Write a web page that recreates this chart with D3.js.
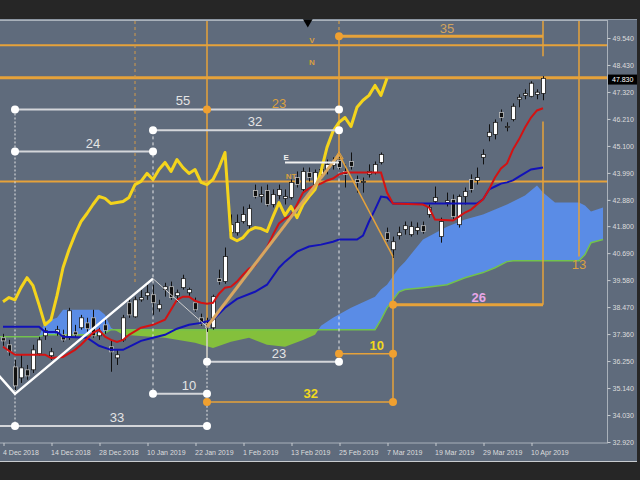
<!DOCTYPE html>
<html><head><meta charset="utf-8">
<script src="https://cdn.jsdelivr.net/npm/d3@7"></script>
<style>html,body{margin:0;padding:0;background:#262626;}svg{display:block;}</style>
</head><body>
<svg id="c" width="640" height="480"></svg>
<script>
// ---------- data ----------
const dateLabels = ["4 Dec 2018","14 Dec 2018","28 Dec 2018","10 Jan 2019","22 Jan 2019","1 Feb 2019","13 Feb 2019","25 Feb 2019","7 Mar 2019","19 Mar 2019","29 Mar 2019","10 Apr 2019"];
const dateIdx = [0,8,16,24,32,40,48,56,64,72,80,88];
const priceTicks = [49.54,48.43,47.32,46.21,45.10,43.99,42.88,41.80,40.69,39.58,38.47,37.36,36.25,35.14,34.03,32.92];
const lastPrice = 47.83;

const openP = [37.21,36.92,36.01,35.56,35.89,35.89,36.55,37.29,36.47,37.41,37.33,37.25,37.45,37.62,37.82,38.03,37.29,37.74,36.84,36.38,37.12,38.65,38.07,38.77,38.94,38.98,38.40,39.19,39.31,38.94,39.27,39.06,38.65,38.03,37.78,37.62,39.64,39.52,41.53,41.53,41.99,41.82,43.27,43.02,43.27,42.69,43.06,42.94,42.98,43.80,43.31,44.01,43.51,43.93,44.13,44.30,44.50,44.05,44.46,43.72,43.60,43.93,44.01,44.42,41.53,40.83,41.41,41.66,41.45,41.62,41.82,42.28,42.81,41.37,42.77,42.90,41.86,43.02,43.72,43.68,44.63,45.49,45.57,46.48,45.86,46.19,47.02,47.18,47.14,47.22,47.26];
const highP = [37.37,37.12,36.30,36.51,36.09,36.92,37.25,37.62,36.79,37.70,37.54,38.44,37.74,38.15,38.03,38.36,37.62,38.03,37.12,36.71,38.15,38.86,38.90,39.19,39.39,39.39,38.77,39.47,39.52,39.19,39.80,39.27,38.86,38.20,38.03,38.98,40.01,40.92,42.28,42.28,42.61,42.69,43.51,43.43,43.51,43.31,43.51,43.31,43.72,44.05,44.21,44.21,44.13,44.34,44.54,44.63,44.75,44.34,44.83,43.88,43.80,44.34,44.46,44.83,41.74,41.37,41.78,41.99,41.99,41.95,41.99,42.69,43.43,42.15,43.18,43.10,43.10,43.39,43.93,44.21,44.96,45.99,46.19,46.60,46.07,46.85,47.22,47.43,47.76,47.43,47.97];
const lowP = [36.88,36.47,35.06,35.35,35.48,35.76,36.47,37.12,36.30,37.29,37.04,37.12,37.21,37.54,37.45,37.21,37.12,37.37,35.81,36.09,37.04,38.03,38.03,38.69,38.77,38.15,38.28,38.90,38.77,38.69,39.19,38.94,38.28,37.70,37.45,37.54,39.39,39.43,41.33,41.41,41.91,41.66,42.94,42.77,42.61,42.57,42.90,42.69,42.90,43.39,43.23,43.64,43.39,43.72,43.93,44.13,44.13,43.39,44.13,43.18,43.18,43.80,43.93,44.34,41.16,40.50,41.25,41.45,41.37,41.45,41.49,42.15,42.73,41.12,42.61,42.07,41.74,42.69,43.18,43.51,44.34,45.29,45.37,46.11,45.70,46.11,46.69,47.02,47.10,47.02,46.98];
const closeP = [37.08,36.63,35.23,35.97,35.64,36.71,37.12,37.50,36.63,37.54,37.12,38.32,37.33,38.03,37.58,37.29,37.45,37.50,36.63,36.51,38.03,38.15,38.77,38.86,39.06,38.65,38.57,39.31,38.86,39.06,39.64,39.19,38.36,37.78,37.62,38.90,39.52,40.55,41.86,41.95,42.28,42.52,43.02,43.10,42.69,43.10,43.31,43.02,43.60,43.51,44.05,43.80,44.01,44.13,44.34,44.46,44.21,43.93,44.26,43.60,43.64,44.05,44.34,44.75,41.25,41.16,41.53,41.82,41.78,41.74,41.58,42.57,42.98,41.99,42.85,42.19,43.02,43.23,43.31,43.80,44.75,45.66,46.07,46.27,45.90,46.73,47.10,47.26,47.68,47.31,47.88];

// Chikou span (yellow), one value per bar starting at bar 0
const chikou = [38.69,38.86,38.77,39.27,39.68,39.35,38.57,37.74,37.95,38.94,40.09,40.83,41.45,41.99,42.32,42.69,43.02,42.94,42.73,42.77,42.81,42.98,43.51,43.64,43.97,43.72,44.13,44.42,44.05,44.54,44.21,43.97,44.13,43.60,43.51,43.72,44.21,44.83,41.33,41.20,41.33,41.62,41.74,41.70,41.58,42.19,42.77,42.24,42.61,42.15,42.69,43.02,43.31,44.05,45.04,45.70,46.07,46.27,45.90,46.69,46.98,47.18,47.59,47.18,47.88];

// Tenkan (red) and Kijun (blue): [bar, value]
const tenkan = [[0,36.84],[2,36.51],[7,36.51],[8,36.38],[10,36.42],[12,36.71],[13,36.92],[15,37.41],[16,37.54],[17,37.25],[18,37.12],[19,37.04],[20,37.12],[21,37.33],[23,37.62],[25,37.74],[27,37.95],[28,38.36],[29,38.77],[30,38.90],[31,38.90],[32,38.73],[33,38.65],[34,38.61],[35,38.65],[36,39.02],[37,39.27],[38,39.31],[39,39.52],[40,39.80],[41,40.05],[42,40.17],[43,40.59],[44,40.92],[45,41.45],[46,41.91],[47,42.11],[48,42.24],[49,42.69],[50,43.18],[51,43.35],[52,43.47],[53,43.55],[54,43.68],[55,43.76],[56,43.93],[57,44.01],[63,44.01],[64,43.18],[65,42.73],[70,42.69],[71,42.57],[72,42.07],[75,42.03],[76,42.19],[77,42.36],[78,42.48],[79,42.69],[80,42.90],[81,43.31],[82,43.80],[83,44.17],[84,44.38],[85,44.96],[86,45.37],[87,45.86],[88,46.27],[89,46.56],[90,46.65]];
const kijun = [[0,37.66],[6,37.66],[7,37.45],[9,37.45],[10,37.25],[14,37.21],[16,36.88],[18,36.71],[20,36.71],[22,36.96],[23,37.08],[25,37.21],[27,37.33],[29,37.58],[31,37.74],[33,37.82],[35,37.95],[37,38.44],[39,38.81],[42,39.10],[44,39.39],[46,40.09],[47,40.34],[49,40.75],[51,40.96],[53,41.04],[55,41.16],[56,41.25],[59,41.25],[60,41.41],[61,41.99],[62,42.48],[63,43.02],[64,42.98],[65,42.73],[79,42.73],[80,42.90],[81,43.31],[82,43.43],[83,43.55],[84,43.60],[85,43.68],[86,43.84],[88,44.13],[90,44.21]];

// Cloud (Senkou A / Senkou B) at shared bars
const cloudIdx = [-1,6,7,9,10,16,17,18,20,27,32,35,38,41,44,47,50,52,53,55,58,62,63,64,66,67,70,74,77,80,82,84,85,87,89,90,92,96,97,98,100];
const senkouA = [37.25,37.25,37.87,38.03,38.36,38.36,38.15,37.62,37.33,37.21,37.00,36.79,37.04,37.21,36.92,36.84,37.12,37.33,37.70,38.03,38.44,38.90,39.19,39.39,40.09,40.34,41.25,41.78,42.07,42.28,42.48,42.69,42.81,43.06,43.47,43.18,42.77,42.77,42.65,42.40,42.57];
const senkouB = [37.25,37.25,37.33,37.33,37.33,37.33,37.41,37.54,37.54,37.54,37.54,37.54,37.54,37.54,37.54,37.54,37.54,37.54,37.54,37.54,37.54,37.54,37.95,38.44,39.10,39.19,39.27,39.39,39.68,39.89,40.09,40.34,40.38,40.38,40.38,40.38,40.38,40.38,40.63,41.12,41.25];

// Analysis annotations (bars / prices)
const fullLevels = [49.24, 47.90, 43.64];
const whiteSpans = [
  {label:"55", from:2,  to:56, price:46.60, at:30},
  {label:"32", from:25, to:56, price:45.74, at:42},
  {label:"24", from:2,  to:25, price:44.87, at:15},
  {label:"23", from:34, to:56, price:36.22, at:46},
  {label:"10", from:25, to:34, price:34.90, at:31},
  {label:"33", from:-1, to:34, price:33.58, at:19}
];
const orangeSpans = [
  {label:"35", from:56, to:90, price:49.61, at:74},
  {label:"26", from:65, to:90, price:38.57, at:79.3},
  {label:"10", from:56, to:65, price:36.55, at:62.3},
  {label:"32", from:34, to:65, price:34.57, at:51.3}
];
const whiteDots = [[2,46.60],[56,46.60],[25,45.74],[56,45.74],[2,44.87],[25,44.87],[34,36.22],[56,36.22],[25,34.90],[34,34.90],[2,33.58],[34,33.58]];
const orangeDots = [[34,46.60],[56,49.61],[65,38.57],[56,36.55],[65,36.55],[34,34.57],[65,34.57]];
const zigzag = [[-1,35.74],[2,34.90],[25,39.64]];
const zigThin = [[25,39.64],[34,37.66]];
const zigTan = [[34,37.66],[56,44.75]];
const zigOrange = [[56,44.75],[65,40.55]];
const eLine = [[47,44.42],[56,44.42]];
const smallLabels = [
  {t:"23", i:46, p:46.68, kind:"orange"},
  {t:"13", i:96, p:40.05, kind:"orange"},
  {t:"V",  i:51.5, p:49.33, kind:"tiny"},
  {t:"N",  i:51.5, p:48.42, kind:"tiny"},
  {t:"E",  i:47.2, p:44.54, kind:"tinyw"},
  {t:"NT", i:48, p:43.76, kind:"tiny"}
];
const shiftMarkIdx = 50.8;

// ---------- drawing ----------
const BG = "#5f6b7c", ORANGE = "#e6a23a", FONT = "'Liberation Sans', Arial, sans-serif";
const PT = 21, PB = 443, PR = 607;
const svg = d3.select("#c");
const x = d3.scaleLinear().domain([0, 88]).range([3, 531]);
const y = d3.scaleLinear().domain([32.92, 49.54]).range([442, 38]);

svg.append("rect").attr("width",640).attr("height",480).attr("fill","#262626");
svg.append("rect").attr("x",0).attr("y",19).attr("width",637).attr("height",443).attr("fill",BG);
svg.append("line").attr("x1",0).attr("x2",637).attr("y1",19.5).attr("y2",19.5).attr("stroke","#8c96a2");
svg.append("line").attr("x1",0).attr("x2",637).attr("y1",461.5).attr("y2",461.5).attr("stroke","#c8ccd0");

const defs = svg.append("defs");
defs.append("clipPath").attr("id","plot").append("rect").attr("x",0).attr("y",PT).attr("width",PR).attr("height",PB-PT);
const cloud = cloudIdx.map((i,k)=>({i, a:senkouA[k], b:senkouB[k]}));
defs.append("clipPath").attr("id","aboveB").append("path")
  .attr("d", d3.area().x(d=>x(d.i)).y0(0).y1(d=>y(d.b))(cloud));
defs.append("clipPath").attr("id","belowB").append("path")
  .attr("d", d3.area().x(d=>x(d.i)).y0(480).y1(d=>y(d.b))(cloud));

const g = svg.append("g").attr("clip-path","url(#plot)");
const between = d3.area().x(d=>x(d.i)).y0(d=>y(d.b)).y1(d=>y(d.a));
g.append("g").attr("clip-path","url(#aboveB)").append("path").attr("d",between(cloud)).attr("fill","#5a8ce6");
g.append("g").attr("clip-path","url(#belowB)").append("path").attr("d",between(cloud)).attr("fill","#84c03c");
const ln = d3.line().x(d=>x(d[0])).y(d=>y(d[1]));
g.append("path").attr("d", ln(cloud.map(d=>[d.i,d.b]))).attr("fill","none").attr("stroke","#72c24c").attr("stroke-width",1.5);

// full-width levels
fullLevels.forEach((p,k)=>{
  g.append("line").attr("x1",0).attr("x2",PR).attr("y1",y(p)).attr("y2",y(p))
   .attr("stroke",ORANGE).attr("stroke-width", k===1?3:2);
});

// vertical guides
function vseg(i,p1,p2,color,w,dash){
  const yy1 = p1===null?PT:y(p1), yy2 = p2===null?PT:y(p2);
  g.append("line").attr("x1",x(i)).attr("x2",x(i)).attr("y1",yy1).attr("y2",yy2)
   .attr("stroke",color).attr("stroke-width",w).attr("stroke-dasharray",dash||null);
}
vseg(22,null,39.39,"#d39a48",1,"3,3");
vseg(34,null,37.66,ORANGE,1.5);
vseg(34,37.66,36.22,"#d8d4cc",1.5);
vseg(34,36.22,33.58,"#e8e8e8",1,"2,2");
vseg(56,null,49.61,ORANGE,1,"3,3");
vseg(56,49.61,44.75,ORANGE,1.5);
vseg(56,44.75,36.22,"#e8e8e8",1,"3,3");
vseg(25,45.74,34.90,"#e8e8e8",1,"3,3");
vseg(2,46.60,33.58,"#e8e8e8",1,"2,2");
vseg(65,40.55,34.57,ORANGE,1.5);
vseg(90,null,48.79,ORANGE,1.5);
vseg(90,46.11,38.57,ORANGE,1.5);
vseg(96,null,40.55,ORANGE,1.5);

// candles
const cg = g.append("g");
closeP.forEach((c,i)=>{
  const xc = Math.round(x(i))+0.5;
  cg.append("line").attr("x1",xc).attr("x2",xc).attr("y1",y(highP[i])).attr("y2",y(lowP[i])).attr("stroke","#111").attr("stroke-width",1);
  const bull = c >= openP[i];
  const top = y(Math.max(openP[i],c)), bot = y(Math.min(openP[i],c));
  cg.append("rect").attr("x",xc-2).attr("y",top).attr("width",4).attr("height",Math.max(1,bot-top))
    .attr("fill",bull?"#ffffff":"#111111").attr("stroke",bull?"#1a1a1a":"#c0c0c0").attr("stroke-width",0.8);
});

// indicator lines
g.append("path").attr("d",ln(kijun)).attr("fill","none").attr("stroke","#1212b8").attr("stroke-width",2);
g.append("path").attr("d",ln(tenkan)).attr("fill","none").attr("stroke","#d41212").attr("stroke-width",2);
g.append("path").attr("d",ln(chikou.map((v,i)=>[i,v]))).attr("fill","none").attr("stroke","#f4d41c").attr("stroke-width",3).attr("stroke-linejoin","round");

// zigzag analysis
g.append("path").attr("d",ln(zigzag)).attr("fill","none").attr("stroke","#ffffff").attr("stroke-width",2.5);
g.append("path").attr("d",ln(zigThin)).attr("fill","none").attr("stroke","#cfcfcf").attr("stroke-width",1);
g.append("path").attr("d",ln(zigTan)).attr("fill","none").attr("stroke","#d8a660").attr("stroke-width",3);
g.append("path").attr("d",ln(zigOrange)).attr("fill","none").attr("stroke",ORANGE).attr("stroke-width",1.5);
g.append("path").attr("d",ln(eLine)).attr("fill","none").attr("stroke","#f0f0f0").attr("stroke-width",2);

// spans
whiteSpans.forEach(s=>{
  g.append("line").attr("x1",x(s.from)).attr("x2",x(s.to)).attr("y1",y(s.price)).attr("y2",y(s.price))
   .attr("stroke","#d4d6da").attr("stroke-width",2);
  g.append("text").attr("x",x(s.at)).attr("y",y(s.price)-4).attr("text-anchor","middle")
   .attr("font-family",FONT).attr("font-size",13).attr("fill","#e4e4e4").text(s.label);
});
const oStyle = {"35":{c:"#d3a35c",b:"normal",w:3},"26":{c:"#e8a6e8",b:"bold",w:3},"10":{c:"#f2d81e",b:"bold",w:1.5},"32":{c:"#f2d81e",b:"bold",w:1.5}};
orangeSpans.forEach(s=>{
  const st = oStyle[s.label];
  g.append("line").attr("x1",x(s.from)).attr("x2",x(s.to)).attr("y1",y(s.price)).attr("y2",y(s.price))
   .attr("stroke",ORANGE).attr("stroke-width",st.w);
  g.append("text").attr("x",x(s.at)).attr("y",y(s.price)-(st.w>2?3:4)).attr("text-anchor","middle")
   .attr("font-family",FONT).attr("font-size",13).attr("font-weight",st.b).attr("fill",st.c).text(s.label);
});
whiteDots.forEach(d=>g.append("circle").attr("cx",x(d[0])).attr("cy",y(d[1])).attr("r",4).attr("fill","#ffffff"));
orangeDots.forEach(d=>g.append("circle").attr("cx",x(d[0])).attr("cy",y(d[1])).attr("r",4).attr("fill","#f0a030"));
// peak marker
g.append("path").attr("d",d3.symbol(d3.symbolTriangle,30)()).attr("transform",`translate(${x(56)},${y(44.75)+2})`)
  .attr("fill","none").attr("stroke",ORANGE).attr("stroke-width",1);

smallLabels.forEach(l=>{
  const t = g.append("text").attr("x",x(l.i)).attr("y",y(l.p)).attr("text-anchor","middle").attr("font-family",FONT).text(l.t);
  if(l.kind==="orange") t.attr("font-size",13).attr("fill","#d9a040");
  else if(l.kind==="tiny") t.attr("font-size",8).attr("font-weight","bold").attr("fill","#d9a040");
  else t.attr("font-size",8).attr("font-weight","bold").attr("fill","#f0f0f0");
});

// frame
svg.append("rect").attr("x",-1).attr("y",PT-0.5).attr("width",PR+1.5).attr("height",PB-PT+0.5)
  .attr("fill","none").attr("stroke","#a9b1ba").attr("stroke-width",1);
svg.append("path").attr("d",d3.symbol(d3.symbolTriangle,40)()).attr("transform",`translate(${x(shiftMarkIdx)},${PT+1}) rotate(180)`).attr("fill","#000");

// axes
const ya = svg.append("g").attr("transform",`translate(${PR+0.5},0)`)
  .call(d3.axisRight(y).tickValues(priceTicks).tickFormat(d3.format(".3f")).tickSize(3).tickPadding(2));
ya.select(".domain").remove();
ya.selectAll("line").attr("stroke","#c8ccd0");
ya.selectAll("text").attr("font-family",FONT).attr("font-size",7).attr("fill","#dcdcdc");

const xa = svg.append("g").attr("transform",`translate(0.5,${PB})`)
  .call(d3.axisBottom(x).tickValues(dateIdx).tickFormat((d,k)=>dateLabels[k]).tickSize(3).tickPadding(4));
xa.select(".domain").remove();
xa.selectAll("line").attr("stroke","#c8ccd0");
xa.selectAll("text").attr("font-family",FONT).attr("font-size",7).attr("fill","#dcdcdc").attr("text-anchor","start").attr("x",-1);

// last price box
const lp = svg.append("g");
lp.append("rect").attr("x",PR+1).attr("y",y(lastPrice)-5).attr("width",29).attr("height",10).attr("fill","#000");
lp.append("text").attr("x",PR+5).attr("y",y(lastPrice)+2.5).attr("font-family",FONT).attr("font-size",7).attr("fill","#fff").text(d3.format(".3f")(lastPrice));
</script>
</body></html>
